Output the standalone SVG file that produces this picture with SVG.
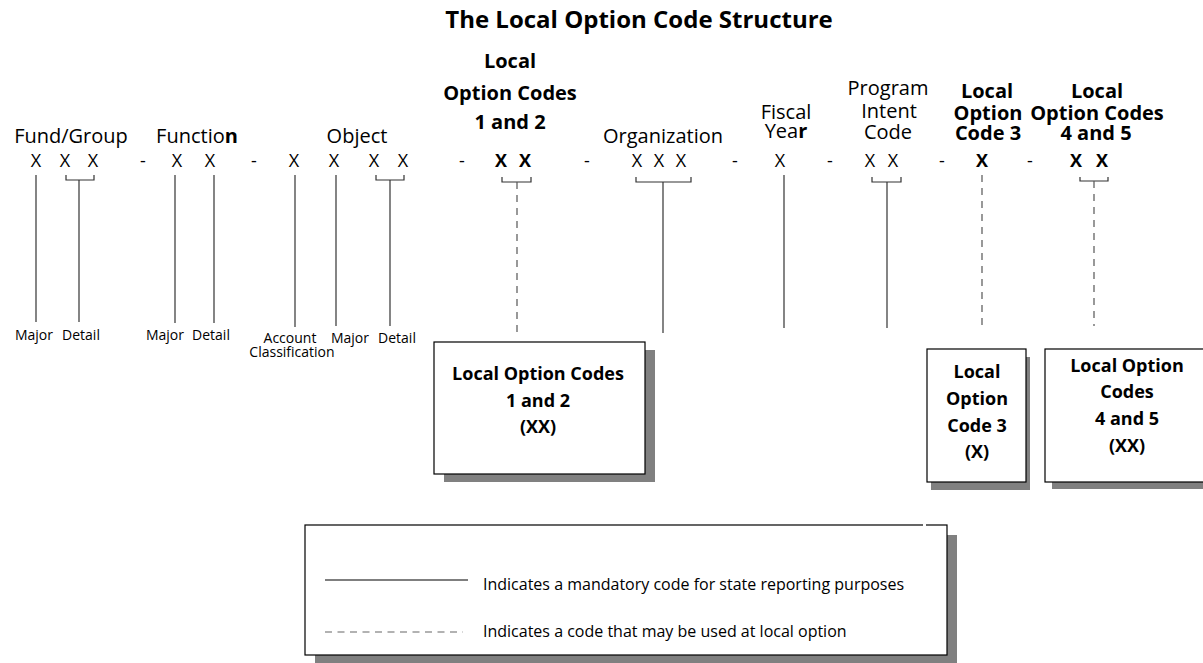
<svg xmlns="http://www.w3.org/2000/svg" width="1203" height="663" viewBox="0 0 1203 663">
<style>
text{font-family:"Open Sans","Noto Sans","Liberation Sans",sans-serif;fill:#000}
.t{font-size:24px;font-weight:bold;text-anchor:middle}
.h{font-size:20px;text-anchor:middle}
.hb{font-size:20px;font-weight:bold;text-anchor:middle}
.x{font-size:18px;text-anchor:middle}
.xb{font-size:18px;font-weight:bold;text-anchor:middle}
.s{font-size:14px;text-anchor:middle}
.bb{font-size:18px;font-weight:bold;text-anchor:middle}
.lg{font-size:16px}
.sol{stroke:#333;stroke-width:1.2;fill:none}
.dsh{stroke:#555;stroke-width:1.2;fill:none;stroke-dasharray:7 6}
.br{stroke:#333;stroke-width:1.2;fill:none}
.box{fill:#fff;stroke:#000;stroke-width:1.2}
.shd{fill:#808080}
</style>
<rect width="1203" height="663" fill="#fff"/>
<text class="t" x="639" y="28">The Local Option Code Structure</text>

<g id="headers">
<text class="h" x="71" y="143">Fund/Group</text>
<text class="h" x="197" y="143">Functio<tspan font-weight="bold">n</tspan></text>
<text class="h" x="357" y="143">Object</text>
<text class="hb" x="510" y="68">Local</text>
<text class="hb" x="510" y="100">Option Codes</text>
<text class="hb" x="510" y="129">1 and 2</text>
<text class="h" x="663" y="143">Organization</text>
<text class="h" x="786" y="119">Fiscal</text>
<text class="h" x="786" y="138">Yea<tspan font-weight="bold">r</tspan></text>
<text class="h" x="888" y="95">Program</text>
<text class="h" x="889" y="118">Intent</text>
<text class="h" x="888" y="139">Code</text>
<text class="hb" x="987" y="98">Local</text>
<text class="hb" x="988" y="120">Option</text>
<text class="hb" x="988" y="140">Code 3</text>
<text class="hb" x="1097" y="98">Local</text>
<text class="hb" x="1097" y="120">Option Codes</text>
<text class="hb" x="1096" y="140">4 and 5</text>
</g>

<g id="code-row">
<text class="x" x="36" y="167">X</text>
<text class="x" x="65" y="167">X</text>
<text class="x" x="93" y="167">X</text>
<text class="x" x="143" y="167">-</text>
<text class="x" x="177" y="167">X</text>
<text class="x" x="210" y="167">X</text>
<text class="x" x="254" y="167">-</text>
<text class="x" x="294" y="167">X</text>
<text class="x" x="334" y="167">X</text>
<text class="x" x="374" y="167">X</text>
<text class="x" x="403" y="167">X</text>
<text class="x" x="462" y="167">-</text>
<text class="xb" x="501" y="167">X</text>
<text class="xb" x="525" y="167">X</text>
<text class="x" x="587" y="167">-</text>
<text class="x" x="637" y="167">X</text>
<text class="x" x="659" y="167">X</text>
<text class="x" x="681" y="167">X</text>
<text class="x" x="735" y="167">-</text>
<text class="x" x="780" y="167">X</text>
<text class="x" x="830" y="167">-</text>
<text class="x" x="870" y="167">X</text>
<text class="x" x="893" y="167">X</text>
<text class="x" x="942" y="167">-</text>
<text class="xb" x="982" y="167">X</text>
<text class="x" x="1030" y="167">-</text>
<text class="xb" x="1076" y="167">X</text>
<text class="xb" x="1102" y="167">X</text>
</g>

<g id="connectors">
<line class="sol" x1="36" y1="175" x2="36" y2="322"/>
<path class="br" d="M66 175V180H94V175"/>
<line class="sol" x1="79" y1="180" x2="79" y2="322"/>
<line class="sol" x1="175" y1="175" x2="175" y2="323"/>
<line class="sol" x1="214" y1="175" x2="214" y2="323"/>
<line class="sol" x1="295" y1="175" x2="295" y2="327"/>
<line class="sol" x1="336" y1="175" x2="336" y2="326"/>
<path class="br" d="M376 175V180H404V175"/>
<line class="sol" x1="390" y1="180" x2="390" y2="326"/>
<path class="br" d="M502 177V182H531V177"/>
<line class="dsh" x1="517" y1="182" x2="517" y2="332"/>
<path class="br" d="M636 177V182H691V177"/>
<line class="sol" x1="663" y1="182" x2="663" y2="333"/>
<line class="sol" x1="784" y1="175" x2="784" y2="328"/>
<path class="br" d="M872 177V182H901V177"/>
<line class="sol" x1="887" y1="182" x2="887" y2="328"/>
<line class="dsh" x1="982" y1="175" x2="982" y2="326"/>
<path class="br" d="M1080 177V181H1108V177"/>
<line class="dsh" x1="1094" y1="181" x2="1094" y2="326"/>
</g>

<g id="sub-labels">
<text class="s" x="34" y="340">Major</text>
<text class="s" x="81" y="340">Detail</text>
<text class="s" x="165" y="340">Major</text>
<text class="s" x="211" y="340">Detail</text>
<text class="s" x="290" y="343">Account</text>
<text class="s" x="292" y="357">Classification</text>
<text class="s" x="350" y="343">Major</text>
<text class="s" x="397" y="343">Detail</text>
</g>

<g id="box-loc12">
<rect class="shd" x="444" y="350" width="211" height="132"/>
<rect class="box" x="434" y="342" width="211" height="132"/>
<text class="bb" x="538" y="380">Local Option Codes</text>
<text class="bb" x="538" y="407">1 and 2</text>
<text class="bb" x="538" y="433">(XX)</text>
</g>

<g id="box-loc3">
<rect class="shd" x="931" y="357" width="99" height="133"/>
<rect class="box" x="927" y="349" width="99" height="133"/>
<text class="bb" x="977" y="378">Local</text>
<text class="bb" x="977" y="405">Option</text>
<text class="bb" x="977" y="432">Code 3</text>
<text class="bb" x="977" y="458">(X)</text>
</g>

<g id="box-loc45">
<rect class="shd" x="1052" y="356" width="170" height="133"/>
<rect class="box" x="1045" y="349" width="170" height="133" stroke-width="2"/>
<text class="bb" x="1127" y="372">Local Option</text>
<text class="bb" x="1127" y="398">Codes</text>
<text class="bb" x="1127" y="425">4 and 5</text>
<text class="bb" x="1127" y="452">(XX)</text>
</g>

<g id="legend">
<rect class="shd" x="315" y="535" width="642" height="130"/>
<rect class="box" x="305" y="525" width="642" height="130"/>
<line x1="923" y1="525" x2="926" y2="525" stroke="#fff" stroke-width="2"/>
<line x1="325" y1="580" x2="468" y2="580" stroke="#000" stroke-width="1.2"/>
<text class="lg" x="483" y="590">Indicates a mandatory code for state reporting purposes</text>
<line x1="325" y1="632" x2="463" y2="632" stroke="#666" stroke-width="1.2" stroke-dasharray="7 5.5"/>
<text class="lg" x="483" y="637">Indicates a code that may be used at local option</text>
</g>
</svg>
